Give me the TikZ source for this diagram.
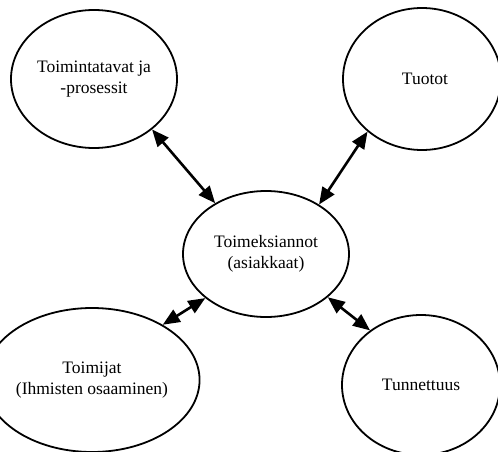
\documentclass[tikz,border=0pt]{standalone}
\usepackage{fontspec}
\setmainfont{Liberation Serif}
\usetikzlibrary{shapes.geometric,arrows.meta}
\begin{document}
\begin{tikzpicture}[x=1pt,y=-1pt,
  bubble/.style={ellipse,draw,line width=1.8pt,inner sep=0pt,align=center,
    font=\fontsize{17.5}{21}\selectfont},
  link/.style={line width=2.6pt,{Triangle[length=17pt,width=14pt]}-{Triangle[length=17pt,width=14pt]}}]
  \clip (0,0) rectangle (498,452);
  \fill[white] (0,0) rectangle (498,452);
  % centre and four surrounding factors
  \node[bubble,minimum width=166pt,minimum height=126pt] (c) at (266,254) {Toimeksiannot\\(asiakkaat)};
  \node[bubble,minimum width=166pt,minimum height=138pt] (tl) at (94,79) {Toimintatavat ja\\-prosessit};
  \node[bubble,minimum width=158pt,minimum height=142pt] (tr) at (422,79) {\hspace*{6pt}Tuotot};
  \node[bubble,minimum width=170pt,minimum height=144pt] (bl) at (92,380) {\raisebox{-6pt}{\shortstack{Toimijat\\[2pt](Ihmisten osaaminen)}}};
  \node[bubble,minimum width=158pt,minimum height=140pt] (br) at (421,385) {Tunnettuus};
  % two-way links to the centre
  \draw[link] (tl.-41) -- (c.135);
  \draw[link] (tr.224) -- (c.43);
  \draw[link] (bl.38) -- (c.216);
  \draw[link] (br.133) -- (c.-35);
\end{tikzpicture}
\end{document}
